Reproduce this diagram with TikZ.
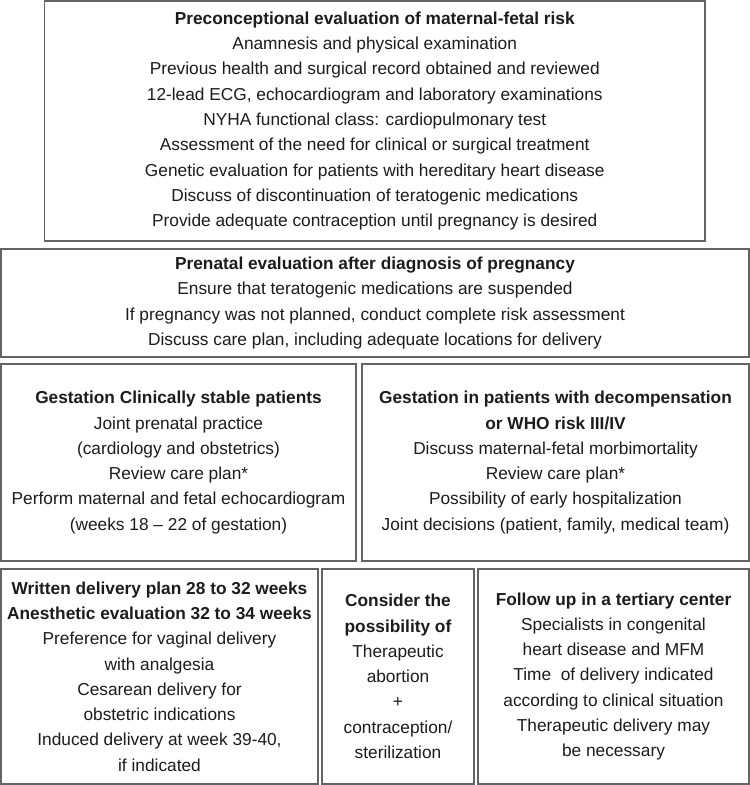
\documentclass[tikz,border=0pt]{standalone}
\usepackage{fontspec}
\setmainfont{Liberation Sans}
\definecolor{bord}{RGB}{100,100,100}
\definecolor{txt}{RGB}{28,28,28}
\begin{document}
\begin{tikzpicture}[x=1bp,y=-1bp,
  box/.style={draw=bord, line width=1.3bp, rectangle, inner sep=0pt, align=center,
    text=txt, font=\fontsize{17.36}{25.4}\selectfont}]
\fill[white] (0,0) rectangle (750,785);
\useasboundingbox (0,0) rectangle (750,785);

\node[box, minimum width=660.5bp, minimum height=240bp] (pre) at (374.75,121)
{\textbf{Preconceptional evaluation of maternal-fetal risk}\\
Anamnesis and physical examination\\
Previous health and surgical record obtained and reviewed\\
12-lead ECG, echocardiogram and laboratory examinations\\
NYHA functional class: cardiopulmonary test\\
Assessment of the need for clinical or surgical treatment\\
Genetic evaluation for patients with hereditary heart disease\\
Discuss of discontinuation of teratogenic medications\\
Provide adequate contraception until pregnancy is desired};

\node[box, minimum width=748bp, minimum height=108bp] (prenatal) at (375,303)
{\textbf{Prenatal evaluation after diagnosis of pregnancy}\\
Ensure that teratogenic medications are suspended\\
If pregnancy was not planned, conduct complete risk assessment\\
Discuss care plan, including adequate locations for delivery};

\node[box, minimum width=355bp, minimum height=197bp] (stable) at (178.5,462.5)
{\textbf{Gestation Clinically stable patients}\\
Joint prenatal practice\\
(cardiology and obstetrics)\\
Review care plan*\\
Perform maternal and fetal echocardiogram\\
(weeks 18 – 22 of gestation)};

\node[box, minimum width=387bp, minimum height=197bp] (decomp) at (555.5,462.5)
{\textbf{Gestation in patients with decompensation}\\
\textbf{or WHO risk III/IV}\\
Discuss maternal-fetal morbimortality\\
Review care plan*\\
Possibility of early hospitalization\\
Joint decisions (patient, family, medical team)};

\node[box, minimum width=317bp, minimum height=215bp] (plan) at (159.5,676.5)
{\textbf{Written delivery plan 28 to 32 weeks}\\
\textbf{Anesthetic evaluation 32 to 34 weeks}\\
Preference for vaginal delivery\\
with analgesia\\
Cesarean delivery for\\
obstetric indications\\
Induced delivery at week 39-40,\\
if indicated};

\node[box, minimum width=152bp, minimum height=215bp] (consider) at (398,676.5)
{\textbf{Consider the}\\
\textbf{possibility of}\\
Therapeutic\\
abortion\\
+\\
contraception/\\
sterilization};

\node[box, minimum width=271bp, minimum height=215bp] (follow) at (613.5,676.5)
{\textbf{Follow up in a tertiary center}\\
Specialists in congenital\\
heart disease and MFM\\
Time\ \ of delivery indicated\\
according to clinical situation\\
Therapeutic delivery may\\
be necessary};
\end{tikzpicture}
\end{document}
